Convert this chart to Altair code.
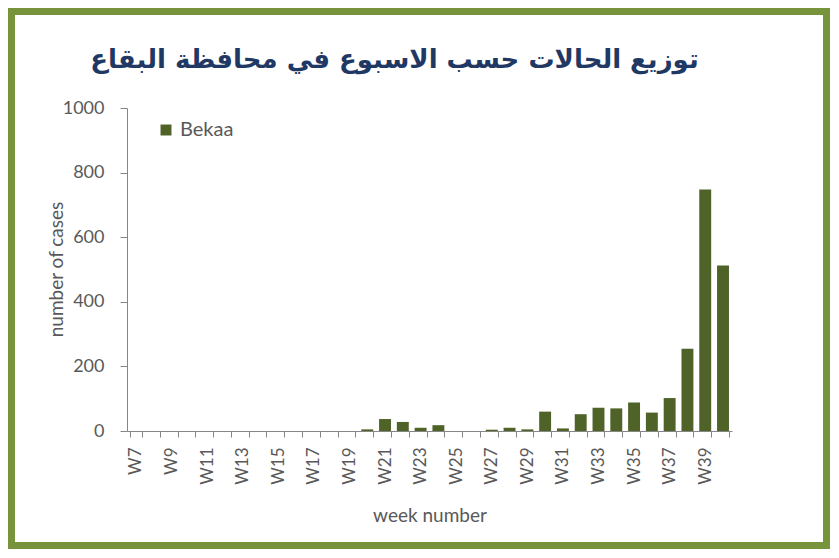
import altair as alt
import pandas as pd

weeks = ["W7", "W8", "W9", "W10", "W11", "W12", "W13", "W14", "W15", "W16",
         "W17", "W18", "W19", "W20", "W21", "W22", "W23", "W24", "W25", "W26",
         "W27", "W28", "W29", "W30", "W31", "W32", "W33", "W34", "W35", "W36",
         "W37", "W38", "W39", "W40"]
cases = [0, 0, 0, 0, 0, 0, 0, 0, 0, 0,
         0, 0, 0, 5, 37, 28, 10, 18, 0, 0,
         4, 10, 5, 60, 8, 52, 72, 70, 88, 57,
         102, 255, 748, 512]
series = "Bekaa"
y_ticks = [0, 200, 400, 600, 800, 1000]
title_text = "توزيع الحالات حسب الاسبوع في محافظة البقاع"

df = pd.DataFrame({"week": weeks, "cases": cases, "region": [series] * len(weeks)})

FONT = "Lato"
GRAY = "#595959"
AXIS_GRAY = "#868686"

bars = alt.Chart(df).mark_bar().encode(
    x=alt.X("week:N", sort=weeks,
            scale=alt.Scale(paddingInner=0.33, paddingOuter=0.17),
            axis=alt.Axis(title="week number", labelAngle=270, grid=False,
                          labelExpr="toNumber(substring(datum.value, 1)) % 2 == 1 ? datum.value : ''",
                          tickBand="extent", tickSize=6, labelPadding=10,
                          labelFont=FONT, labelFontSize=17, labelColor=GRAY,
                          titleFont=FONT, titleFontSize=19, titleColor=GRAY,
                          titleFontWeight="normal", titlePadding=22,
                          domainColor=AXIS_GRAY, tickColor=AXIS_GRAY)),
    y=alt.Y("cases:Q", scale=alt.Scale(domain=[0, 1000]),
            axis=alt.Axis(title="number of cases", values=y_ticks, grid=False, format="d",
                          tickSize=7, labelPadding=16,
                          labelFont=FONT, labelFontSize=18, labelColor=GRAY,
                          titleFont=FONT, titleFontSize=19, titleColor=GRAY,
                          titleFontWeight="normal", titleX=-71, titleY=161,
                          titleAngle=270, titleAlign="center", titleBaseline="middle",
                          domainColor=AXIS_GRAY, tickColor=AXIS_GRAY)),
    color=alt.Color("region:N", scale=alt.Scale(range=["#4f6228"]),
                    legend=alt.Legend(title=None, orient="none", legendX=29, legendY=12,
                                      symbolType="square", symbolSize=120,
                                      symbolStrokeWidth=0,
                                      labelFont=FONT, labelFontSize=20, labelColor=GRAY)),
)

frame = alt.Chart(alt.Data(values=[{"a": 1}])).mark_rect(
    fillOpacity=0, stroke="#77933c", strokeWidth=7
).encode(
    x=alt.value(-115.5), x2=alt.value(699.5),
    y=alt.value(-96.5), y2=alt.value(437.5)
)

chart = alt.layer(bars, frame).properties(
    width=605, height=323,
    background="white",
    title=alt.TitleParams(title_text, font="DejaVu Sans", fontSize=26, fontWeight="bold",
                          color="#1f3864", anchor="middle", dx=-35, offset=0, dy=86,
                          baseline="alphabetic"),
    autosize=alt.AutoSizeParams(type="none"),
    padding={"left": 119, "top": 100, "right": 98, "bottom": 118},
).configure_view(stroke="transparent", strokeWidth=0)

chart.save("out.html", embed_options={"renderer": "svg", "actions": False})
